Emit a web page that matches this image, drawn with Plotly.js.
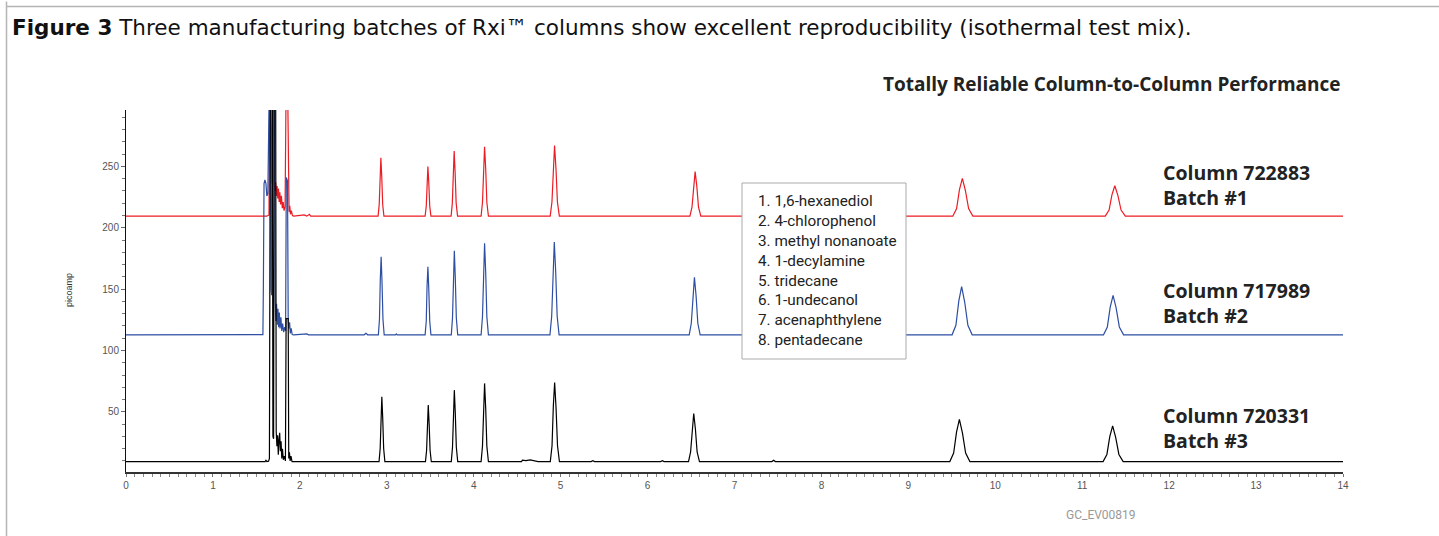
<!DOCTYPE html>
<html>
<head>
<meta charset="utf-8">
<script src="https://cdn.plot.ly/plotly-3.0.1.min.js"></script>
<style>
  html, body { margin: 0; padding: 0; background: #fff; }
  #chart { width: 1439px; height: 536px; }
</style>
</head>
<body>
<div id="chart"></div>
<script>
// ---- Data (time in minutes, signal in picoamp) ----
const redTime = [0, 1.620, 1.645, 1.652, 1.664, 1.668, 1.676, 1.684, 1.700, 1.706, 1.714, 1.722, 1.730, 1.738, 1.746, 1.754, 1.762, 1.770, 1.778, 1.788, 1.798, 1.808, 1.818, 1.830, 1.840, 1.862, 1.868, 1.876, 1.884, 1.892, 1.902, 1.915, 1.930, 2.050, 2.080, 2.110, 2.125,
  2.900, 2.913, 2.922, 2.932, 2.942, 2.953, 2.967,
  3.441, 3.454, 3.463, 3.473, 3.483, 3.494, 3.508,
  3.740, 3.754, 3.764, 3.775, 3.786, 3.798, 3.814,
  4.085, 4.101, 4.113, 4.125, 4.138, 4.151, 4.169,
  4.880, 4.900, 4.915, 4.930, 4.946, 4.963, 4.985,
  6.487, 6.511, 6.529, 6.547, 6.566, 6.586, 6.613,
  9.511, 9.555, 9.588, 9.621, 9.656, 9.693, 9.742,
  11.265, 11.309, 11.342, 11.375, 11.410, 11.447, 11.496,
  14];
const redSignal = [209.5, 209.5, 210.5, 300, 300, 238, 236, 300, 300, 236, 230, 237, 226, 234, 224, 232, 221, 229, 219, 226, 216, 221, 214, 217, 300, 300, 222, 213, 218, 211, 214, 210, 209.5, 210.5, 209.5, 211, 209.5,
  209.5, 219, 242.8, 257, 241.8, 219, 209.5,
  209.5, 217.6, 237.9, 250, 237, 217.6, 209.5,
  209.5, 220.1, 246.6, 262.5, 245.5, 220.1, 209.5,
  209.5, 220.8, 249.1, 266, 247.9, 220.8, 209.5,
  209.5, 221, 249.8, 267, 248.6, 221, 209.5,
  209.5, 216.8, 234.9, 245.8, 234.2, 216.8, 209.5,
  209.5, 215.7, 231.1, 240.3, 230.4, 215.7, 209.5,
  209.5, 214.5, 226.9, 234.3, 226.4, 214.5, 209.5,
  209.5];

const blueTime = [0, 1.560, 1.575, 1.580, 1.588, 1.598, 1.610, 1.620, 1.632, 1.645, 1.664, 1.668, 1.676, 1.684, 1.708, 1.716, 1.724, 1.732, 1.740, 1.748, 1.756, 1.764, 1.772, 1.782, 1.792, 1.802, 1.814, 1.826, 1.836, 1.844, 1.858, 1.866, 1.874, 1.882, 1.890, 1.900, 1.912, 1.930, 2.080, 2.100, 2.740, 2.760, 2.780,
  2.903, 2.916, 2.925, 2.935, 2.945, 2.956, 2.970,
  3.100, 3.110, 3.120,
  3.441, 3.454, 3.463, 3.473, 3.483, 3.494, 3.508,
  3.742, 3.756, 3.766, 3.777, 3.788, 3.800, 3.816,
  4.085, 4.101, 4.113, 4.125, 4.138, 4.151, 4.169,
  4.877, 4.897, 4.912, 4.927, 4.943, 4.960, 4.982,
  6.479, 6.503, 6.521, 6.539, 6.558, 6.578, 6.605,
  9.503, 9.547, 9.580, 9.613, 9.648, 9.685, 9.734,
  11.245, 11.289, 11.322, 11.355, 11.390, 11.427, 11.476,
  14];
const blueSignal = [112.8, 112.8, 113, 150, 236, 239, 236, 226, 228, 300, 300, 150, 145, 300, 300, 140, 124, 138, 121, 134, 119, 131, 118, 127, 116, 122, 115, 119, 116, 241, 238, 124, 118, 123, 114, 118, 113, 112.8, 113.5, 112.8, 112.8, 114, 112.8,
  112.8, 125.5, 157.3, 176.4, 156, 125.5, 112.8,
  112.8, 113.5, 112.8,
  112.8, 123.9, 151.7, 168.3, 150.5, 123.9, 112.8,
  112.8, 126.5, 160.8, 181.3, 159.4, 126.5, 112.8,
  112.8, 127.7, 165, 187.4, 163.5, 127.7, 112.8,
  112.8, 127.9, 165.7, 188.4, 164.2, 127.9, 112.8,
  112.8, 122.2, 145.6, 159.6, 144.6, 122.2, 112.8,
  112.8, 120.6, 140.2, 152, 139.5, 120.6, 112.8,
  112.8, 119.2, 135.3, 145, 134.7, 119.2, 112.8,
  112.8];

const blackTime = [0, 1.600, 1.610, 1.620, 1.640, 1.650, 1.660, 1.684, 1.690, 1.698, 1.704, 1.722, 1.728, 1.736, 1.744, 1.752, 1.760, 1.768, 1.776, 1.784, 1.792, 1.800, 1.810, 1.822, 1.834, 1.842, 1.866, 1.872, 1.880, 1.888, 1.898, 1.910,
  2.911, 2.924, 2.933, 2.943, 2.953, 2.964, 2.978,
  3.445, 3.458, 3.467, 3.477, 3.487, 3.498, 3.512,
  3.742, 3.756, 3.766, 3.777, 3.788, 3.800, 3.816,
  4.085, 4.101, 4.113, 4.125, 4.138, 4.151, 4.169,
  4.550, 4.560, 4.600, 4.650, 4.700, 4.740,
  4.881, 4.901, 4.916, 4.931, 4.947, 4.964, 4.986,
  5.350, 5.370, 5.390, 6.150, 6.170, 6.190,
  6.471, 6.495, 6.513, 6.531, 6.550, 6.570, 6.597,
  7.430, 7.450, 7.470,
  9.477, 9.521, 9.554, 9.587, 9.622, 9.659, 9.708,
  11.240, 11.284, 11.317, 11.350, 11.385, 11.422, 11.471,
  14];
const blackSignal = [9.5, 9.5, 10.5, 9.5, 9.8, 12, 300, 300, 30, 28, 300, 300, 34, 22, 31, 15, 27, 33, 18, 26, 12, 20, 11, 14, 10, 126, 126, 12, 17, 10, 14, 9.5,
  9.5, 20.1, 46.5, 62.3, 45.4, 20.1, 9.5,
  9.5, 18.7, 41.7, 55.5, 40.8, 18.7, 9.5,
  9.5, 21.1, 50.2, 67.7, 49.1, 21.1, 9.5,
  9.5, 22.2, 54.1, 73.2, 52.8, 22.2, 9.5,
  9.5, 10.6, 10.2, 10.8, 10.3, 9.5,
  9.5, 22.4, 54.7, 74, 53.4, 22.4, 9.5,
  9.5, 10.2, 9.5, 9.5, 10.2, 9.5,
  9.5, 17.3, 36.9, 48.7, 36.2, 17.3, 9.5,
  9.5, 10.6, 9.5,
  9.5, 16.4, 33.5, 43.8, 32.8, 16.4, 9.5,
  9.5, 15.3, 29.9, 38.6, 29.3, 15.3, 9.5,
  9.5];

const xTickValues = [0, 1, 2, 3, 4, 5, 6, 7, 8, 9, 10, 11, 12, 13, 14];
const xTickLabels = ["0", "1", "2", "3", "4", "5", "6", "7", "8", "9", "10", "11", "12", "13", "14"];
const xHalfTicks = [0.5, 1.5, 2.5, 3.5, 4.5, 5.5, 6.5, 7.5, 8.5, 9.5, 10.5, 11.5, 12.5, 13.5];
const yTickValues = [50, 100, 150, 200, 250];
const yTickLabels = ["50", "100", "150", "200", "250"];

const compounds = ["1. 1,6-hexanediol", "2. 4-chlorophenol", "3. methyl nonanoate", "4. 1-decylamine",
  "5. tridecane", "6. 1-undecanol", "7. acenaphthylene", "8. pentadecane"];
const columnNames = ["Column 722883", "Column 717989", "Column 720331"];
const batchNames = ["Batch #1", "Batch #2", "Batch #3"];
const titleText = "<b>Figure 3</b> Three manufacturing batches of Rxi™ columns show excellent reproducibility (isothermal test mix).";
const subtitleText = "Totally Reliable Column-to-Column Performance";
const yLabel = "picoamp";
const codeLabel = "GC_EV00819";

// ---- Traces ----
const traces = [
  { x: redTime, y: redSignal, type: "scatter", mode: "lines", line: { color: "#ec1c24", width: 1.2 }, hoverinfo: "skip" },
  { x: blueTime, y: blueSignal, type: "scatter", mode: "lines", line: { color: "#2d4ea3", width: 1.2 }, hoverinfo: "skip" },
  { x: blackTime, y: blackSignal, type: "scatter", mode: "lines", line: { color: "#000000", width: 1.2 }, hoverinfo: "skip" }
];

const tickFont = { family: "Liberation Sans, Arial, sans-serif", size: 10, color: "#555" };
const labelFont = { family: "Open Sans, Noto Sans, sans-serif", size: 19.5, color: "#222" };
const XR = [0, 14], YR = [1, 296];

// pixel -> paper helpers for placing decorations
const px = v => (v - 126) / 1217;
const py = v => (472 - v) / 362;

// vertical centre (pixels) of each two-line batch label
const labelCentersPx = [185, 303, 428];

const labelAnnotations = columnNames.map((name, i) => ({
  text: "<b>" + name + "<br>" + batchNames[i] + "</b>", xref: "paper", yref: "paper", x: px(1161), xanchor: "left",
  y: py(labelCentersPx[i]), yanchor: "middle", align: "left", showarrow: false, font: labelFont
}));

const layout = {
  width: 1439, height: 536,
  margin: { l: 126, r: 96, t: 110, b: 64 },
  paper_bgcolor: "#fff", plot_bgcolor: "#fff",
  showlegend: false,
  title: {
    text: titleText, xref: "container", yref: "container", x: 12 / 1439, xanchor: "left",
    y: 1 - 27 / 536, yanchor: "middle",
    font: { family: "DejaVu Sans, Open Sans, sans-serif", size: 21.5, color: "#111" }
  },
  xaxis: {
    range: XR, showgrid: false, zeroline: false, showline: true, linecolor: "#333", linewidth: 1.5,
    ticks: "outside", ticklen: 3, tickwidth: 1, tickcolor: "#777",
    tickvals: xTickValues, ticktext: xTickLabels, tickfont: tickFont,
    minor: { dtick: 0.1, tick0: 0, ticks: "outside", ticklen: 3, tickcolor: "#888", tickwidth: 1, showgrid: false }
  },
  xaxis2: {
    range: XR, overlaying: "x", anchor: "y", side: "bottom", showgrid: false, zeroline: false, showline: false,
    ticks: "outside", ticklen: 6, tickwidth: 1, tickcolor: "#777", tickvals: xHalfTicks, showticklabels: false
  },
  yaxis: {
    range: YR, showgrid: false, zeroline: false, showline: true, linecolor: "#111", linewidth: 1,
    ticks: "outside", ticklen: 4, tickwidth: 1, tickcolor: "#666",
    tickvals: yTickValues, ticktext: yTickLabels, tickfont: tickFont,
    minor: { dtick: 10, tick0: 0, ticks: "outside", ticklen: 3, tickcolor: "#777", tickwidth: 1, showgrid: false }
  },
  yaxis2: {
    range: YR, overlaying: "y", anchor: "x", side: "right", showgrid: false, zeroline: false, showline: true,
    linecolor: "#111", linewidth: 1, ticks: "inside", ticklen: 3, tickcolor: "#777", tickwidth: 1,
    dtick: 10, tick0: 0, showticklabels: false
  },
  shapes: [
    // outer figure frame (left and top)
    { type: "line", xref: "paper", yref: "paper", x0: px(6.5), x1: px(6.5), y0: 1.30, y1: -0.3, line: { color: "#b5b5b5", width: 1.5 } },
    { type: "line", xref: "paper", yref: "paper", x0: px(6), x1: 1.2, y0: py(6.5), y1: py(6.5), line: { color: "#b5b5b5", width: 1.5 } },
    // compound list box
    { type: "rect", xref: "paper", yref: "paper", x0: px(742), x1: px(906), y0: py(359), y1: py(183),
      fillcolor: "#fff", line: { color: "#aaa", width: 1 }, layer: "above" }
  ],
  annotations: [
    { text: "<b>" + subtitleText + "</b>", xref: "paper", yref: "paper", x: 1, xanchor: "right", y: py(84), yanchor: "middle",
      showarrow: false, font: { family: "Open Sans, Noto Sans, sans-serif", size: 19, color: "#222" } },
    { text: compounds.join("<br>"), xref: "paper", yref: "paper", x: px(756), xanchor: "left", y: py(270), yanchor: "middle",
      align: "left", showarrow: false, font: { family: "Liberation Sans Narrow, Roboto, sans-serif", size: 15.3, color: "#222" } },
    { text: yLabel, xref: "paper", yref: "paper", x: px(69), xanchor: "center", y: py(290), yanchor: "middle",
      textangle: -90, showarrow: false, font: { family: "Liberation Sans, Arial, sans-serif", size: 9, color: "#333" } },
    { text: codeLabel, xref: "paper", yref: "paper", x: px(1101), xanchor: "center", y: py(515), yanchor: "middle",
      showarrow: false, font: { family: "Liberation Sans Narrow, Roboto, sans-serif", size: 12, color: "#999" } }
  ].concat(labelAnnotations)
};

Plotly.newPlot("chart", traces, layout, { displayModeBar: false, staticPlot: true });
</script>
</body>
</html>
